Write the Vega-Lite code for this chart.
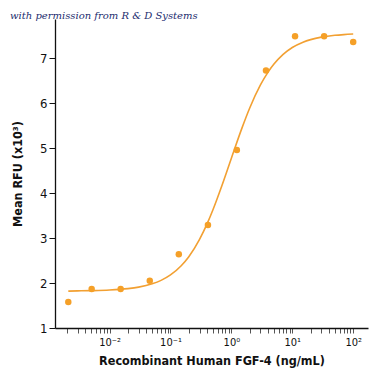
{
  "$schema": "https://vega.github.io/schema/vega-lite/v6.json",
  "autosize": {"type": "none"},
  "width": 313,
  "height": 309,
  "padding": {"left": 55, "top": 19, "right": 7, "bottom": 47},
  "background": "white",
  "title": {
    "text": "with permission from R & D Systems",
    "anchor": "start",
    "frame": "group",
    "dx": -45,
    "dy": 4,
    "offset": 2,
    "font": "DejaVu Serif",
    "fontStyle": "italic",
    "fontWeight": "normal",
    "fontSize": 10,
    "color": "#1c2c6e"
  },
  "config": {
    "view": {"stroke": null},
    "axis": {
      "grid": false,
      "domainColor": "#111",
      "domainWidth": 1.3,
      "tickColor": "#555",
      "labelColor": "#111",
      "titleColor": "#111",
      "labelFont": "DejaVu Sans Condensed",
      "titleFont": "DejaVu Sans Condensed"
    }
  },
  "datasets": {
    "points": [
      {"conc": 0.0021, "rfu": 1.58},
      {"conc": 0.00508, "rfu": 1.87},
      {"conc": 0.0152, "rfu": 1.87},
      {"conc": 0.0457, "rfu": 2.05},
      {"conc": 0.137, "rfu": 2.64},
      {"conc": 0.412, "rfu": 3.29},
      {"conc": 1.23, "rfu": 4.96},
      {"conc": 3.7, "rfu": 6.73},
      {"conc": 11.1, "rfu": 7.49},
      {"conc": 33.3, "rfu": 7.49},
      {"conc": 100, "rfu": 7.36}
    ],
    "curve": [
      {"conc": 0.0021, "rfu": 1.82},
      {"conc": 0.003, "rfu": 1.826},
      {"conc": 0.005, "rfu": 1.831},
      {"conc": 0.01, "rfu": 1.844},
      {"conc": 0.02, "rfu": 1.875},
      {"conc": 0.03, "rfu": 1.909},
      {"conc": 0.05, "rfu": 1.983},
      {"conc": 0.07, "rfu": 2.06},
      {"conc": 0.1, "rfu": 2.181},
      {"conc": 0.15, "rfu": 2.385},
      {"conc": 0.2, "rfu": 2.586},
      {"conc": 0.3, "rfu": 2.971},
      {"conc": 0.4, "rfu": 3.321},
      {"conc": 0.5, "rfu": 3.637},
      {"conc": 0.7, "rfu": 4.171},
      {"conc": 1, "rfu": 4.778},
      {"conc": 1.5, "rfu": 5.457},
      {"conc": 2, "rfu": 5.894},
      {"conc": 3, "rfu": 6.406},
      {"conc": 4, "rfu": 6.692},
      {"conc": 5, "rfu": 6.871},
      {"conc": 7, "rfu": 7.081},
      {"conc": 10, "rfu": 7.239},
      {"conc": 15, "rfu": 7.358},
      {"conc": 20, "rfu": 7.415},
      {"conc": 30, "rfu": 7.47},
      {"conc": 50, "rfu": 7.511},
      {"conc": 70, "rfu": 7.527},
      {"conc": 100, "rfu": 7.539}
    ]
  },
  "encoding": {
    "x": {
      "field": "conc",
      "type": "quantitative",
      "scale": {"type": "log", "domain": [0.00127, 175], "nice": false},
      "axis": {
        "title": "Recombinant Human FGF-4 (ng/mL)",
        "titleFontSize": 12.5,
        "titleFontWeight": "bold",
        "titlePadding": 7,
        "values": [0.002, 0.003, 0.004, 0.005, 0.006, 0.007, 0.008, 0.009, 0.01, 0.02, 0.03, 0.04, 0.05, 0.06, 0.07, 0.08, 0.09, 0.1, 0.2, 0.3, 0.4, 0.5, 0.6, 0.7, 0.8, 0.9, 1, 2, 3, 4, 5, 6, 7, 8, 9, 10, 20, 30, 40, 50, 60, 70, 80, 90, 100],
        "labelExpr": "datum.value == 0.01 ? '10⁻²' : datum.value == 0.1 ? '10⁻¹' : datum.value == 1 ? '10⁰' : datum.value == 10 ? '10¹' : datum.value == 100 ? '10²' : ''",
        "labelFontSize": 11,
        "labelPadding": 3,
        "tickSize": 5,
        "labelFlush": false,
        "labelOverlap": false
      }
    },
    "y": {
      "field": "rfu",
      "type": "quantitative",
      "scale": {"domain": [1, 7.874], "nice": false, "zero": false},
      "axis": {
        "title": "Mean RFU (x10³)",
        "titleFontSize": 12.5,
        "titleFontWeight": "bold",
        "titlePadding": 15,
        "values": [1, 2, 3, 4, 5, 6, 7],
        "labelFontSize": 13,
        "labelPadding": 2,
        "tickSize": 6,
        "tickColor": "#111"
      }
    }
  },
  "layer": [
    {
      "data": {"name": "curve"},
      "mark": {"type": "line", "color": "#F2A032", "strokeWidth": 1.6, "interpolate": "monotone"}
    },
    {
      "data": {"name": "points"},
      "mark": {"type": "point", "filled": true, "color": "#F5A028", "opacity": 1, "size": 42}
    }
  ]
}
